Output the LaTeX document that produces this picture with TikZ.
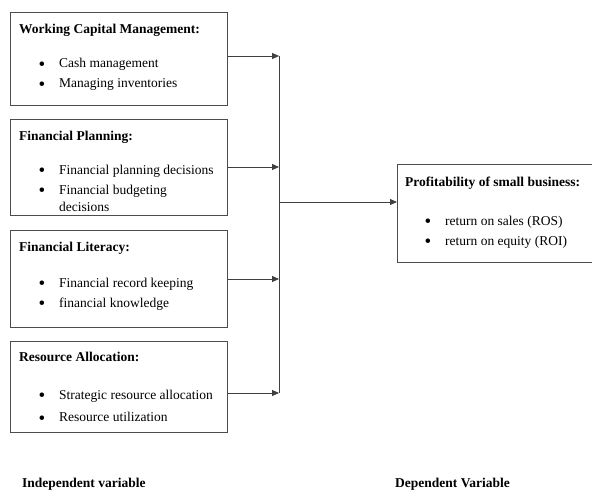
\documentclass[tikz,border=0pt]{standalone}
\usepackage{fontspec}
\setmainfont{Liberation Serif}
\usetikzlibrary{arrows.meta,positioning}
\newcommand{\fs}{\fontsize{13.5}{17.7}\selectfont}
\newcommand{\bul}{\llap{\raisebox{-2.6pt}{\fontsize{19}{19}\selectfont\textbullet}\hspace{14pt}}}
\begin{document}
\begin{tikzpicture}[x=1pt,y=-1pt,
  box/.style={draw=black!70,line width=0.9pt,inner sep=0pt,anchor=north west},
  head/.style={anchor=base west,inner sep=0pt,font=\fs\bfseries},
  item/.style={anchor=base west,inner sep=0pt,font=\fs},
  arr/.style={black!75,line width=0.9pt,-{Triangle[length=7pt,width=6pt]}}]
  \useasboundingbox (0,0) rectangle (592,490);
  % independent variables
  \node[box,minimum width=217pt,minimum height=93pt] (wcm) at (10,12) {};
  \node[head] (wcmh) at (19,33) {Working Capital Management:};
  \node[item] (wcm1) at (59,67.5) {\bul Cash management};
  \node[item] (wcm2) at (59,87.5) {\bul Managing inventories};

  \node[box,minimum width=217pt,minimum height=96pt] (plan) at (10,119) {};
  \node[head] (planh) at (19,140.5) {Financial Planning:};
  \node[item] (plan1) at (59,174) {\bul Financial planning decisions};
  \node[item] (plan2) at (59,194) {\bul\parbox[t]{150pt}{Financial budgeting\\decisions}};

  \node[box,minimum width=217pt,minimum height=97pt] (lit) at (10,230) {};
  \node[head] (lith) at (19,251.5) {Financial Literacy:};
  \node[item] (lit1) at (59,287) {\bul Financial record keeping};
  \node[item] (lit2) at (59,307) {\bul financial knowledge};

  \node[box,minimum width=217pt,minimum height=91pt] (alloc) at (10,341) {};
  \node[head] (alloch) at (19,361) {Resource Allocation:};
  \node[item] (alloc1) at (59,399) {\bul Strategic resource allocation};
  \node[item] (alloc2) at (59,421.5) {\bul Resource utilization};

  % dependent variable
  \node[box,minimum width=205pt,minimum height=98pt] (profit) at (397,164) {};
  \node[head] (profith) at (405,186.5) {Profitability of small business:};
  \node[item] (profit1) at (445,225) {\bul return on sales (ROS)};
  \node[item] (profit2) at (445,245) {\bul return on equity (ROI)};

  % connectors
  \coordinate (j1) at (279,56);
  \coordinate (j2) at (279,167);
  \coordinate (j3) at (279,279);
  \coordinate (j4) at (279,393);
  \coordinate (jm) at (279,202);
  \draw[arr] (j1 -| wcm.east) -- (j1);
  \draw[arr] (j2 -| plan.east) -- (j2);
  \draw[arr] (j3 -| lit.east) -- (j3);
  \draw[arr] (j4 -| alloc.east) -- (j4);
  \draw[black!75,line width=0.9pt] (j1) -- (j4);
  \draw[arr] (jm) -- (jm -| profit.west);

  \node[head] (indep) at (22,487) {Independent variable};
  \node[head] (dep) at (395,487) {Dependent Variable};
\end{tikzpicture}
\end{document}
